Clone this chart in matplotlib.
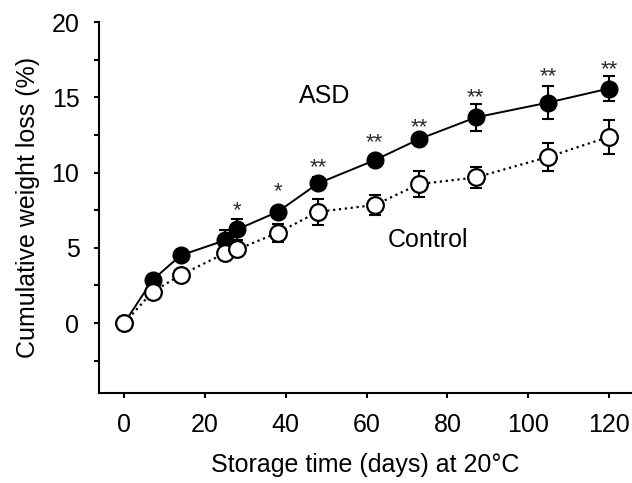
import matplotlib
matplotlib.use("Agg")
import matplotlib.pyplot as plt
from matplotlib.ticker import MultipleLocator

plt.rcParams['font.family'] = ['Liberation Sans', 'DejaVu Sans']

# storage days and cumulative weight loss (%)
days = [0, 7, 14, 25, 28, 38, 48, 62, 73, 87, 105, 120]
asd = [0, 2.86, 4.5, 5.5, 6.22, 7.39, 9.28, 10.82, 12.22, 13.66, 14.65, 15.58]
asd_err = [0, 0.3, 0.3, 0.7, 0.7, 0.3, 0.4, 0.3, 0.35, 0.9, 1.1, 0.8]
control = [0, 2.08, 3.19, 4.65, 4.89, 6.0, 7.39, 7.84, 9.23, 9.67, 11.04, 12.37]
control_err = [0, 0.3, 0.3, 0.4, 0.3, 0.6, 0.85, 0.65, 0.85, 0.7, 0.95, 1.15]

# significance marks above the ASD points
sig_days = [28, 38, 48, 62, 73, 87, 105, 120]
sig_marks = ['*', '*', '**', '**', '**', '**', '**', '**']
sig_y = [8.0, 9.3, 10.9, 12.5, 13.55, 15.5, 16.9, 17.4]

fig = plt.figure(figsize=(6.32, 4.83), dpi=100)
ax = fig.add_axes([99 / 632, 90 / 483, 533 / 632, 371 / 483])

ax.errorbar(days, asd, yerr=asd_err, fmt='none', ecolor='black',
            elinewidth=1.5, capsize=4.2, capthick=1.5, zorder=2)
ax.errorbar(days, control, yerr=control_err, fmt='none', ecolor='black',
            elinewidth=1.5, capsize=4.2, capthick=1.5, zorder=2)
ax.plot(days, asd, '-', color='black', lw=1.4, marker='o', ms=12,
        mfc='black', mec='black', zorder=3)
ax.plot(days, control, ':', color='black', lw=1.6, marker='o', ms=12,
        mfc='white', mec='black', mew=1.6, zorder=4)

# asterisk glyph sits high in the em box, so shift the anchor down a bit
for d, m, y in zip(sig_days, sig_marks, sig_y):
    ax.text(d, y - 0.55, m, ha='center', va='center', fontsize=16,
            color='#2a2a3a')

ax.text(49.7, 15.1, 'ASD', ha='center', va='center', fontsize=18)
ax.text(75.3, 5.5, 'Control', ha='center', va='center', fontsize=18)

ax.set_xlim(-6.26, 125.7)
ax.set_ylim(-4.65, 20)
ax.set_xticks([0, 20, 40, 60, 80, 100, 120])
ax.set_yticks([0, 5, 10, 15, 20])
ax.yaxis.set_minor_locator(MultipleLocator(2.5))

for s in ['top', 'right']:
    ax.spines[s].set_visible(False)
for s in ['left', 'bottom']:
    ax.spines[s].set_linewidth(1.5)

ax.tick_params(which='both', direction='out', width=1.5, length=3.6,
               labelsize=18, pad=10.5)

ax.set_xlabel('Storage time (days) at 20°C', fontsize=18, labelpad=12)
ax.set_ylabel('Cumulative weight loss (%)', fontsize=18, labelpad=8)

fig.savefig('out.png', dpi=100)
